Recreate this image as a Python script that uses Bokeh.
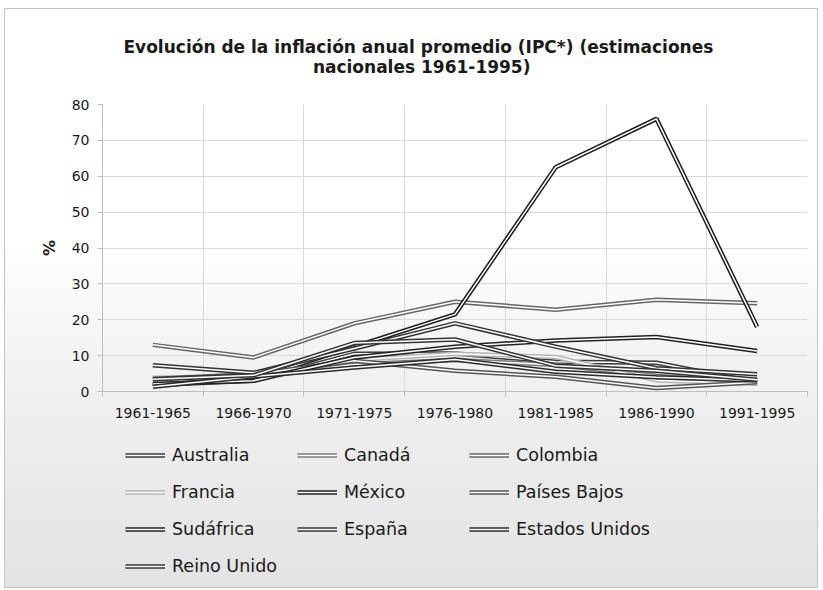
from bokeh.plotting import figure
from bokeh.layouts import column
from bokeh.models import (Range1d, FixedTicker, Legend, LegendItem, Title, InlineStyleSheet)
from bokeh.embed import file_html
from bokeh.resources import INLINE

periods = ["1961-1965", "1966-1970", "1971-1975", "1976-1980",
           "1981-1985", "1986-1990", "1991-1995"]

australia = [1.8, 3.0, 10.5, 10.6, 8.3, 8.0, 2.5]
canada = [1.6, 3.8, 7.5, 8.8, 7.4, 4.4, 2.2]
colombia = [13.0, 9.5, 19.0, 25.0, 22.8, 25.6, 24.6]
francia = [3.8, 4.3, 8.8, 10.5, 9.6, 3.1, 2.2]
mexico = [1.8, 3.5, 12.5, 21.5, 62.5, 76.0, 18.0]
paises_bajos = [3.5, 4.8, 8.6, 5.8, 4.1, 1.0, 2.6]
sudafrica = [2.1, 3.0, 9.5, 12.5, 14.2, 15.2, 11.3]
espana = [7.3, 5.2, 12.0, 19.0, 12.5, 6.5, 4.8]
estados_unidos = [1.3, 4.2, 6.7, 8.9, 5.5, 4.0, 3.1]
reino_unido = [3.4, 4.5, 13.5, 14.5, 7.2, 5.8, 3.3]

series = [
    ("Australia", australia, "#3a3a3a"),
    ("Canadá", canada, "#7a7a7a"),
    ("Colombia", colombia, "#666666"),
    ("Francia", francia, "#b4b4b4"),
    ("México", mexico, "#1e1e1e"),
    ("Países Bajos", paises_bajos, "#555555"),
    ("Sudáfrica", sudafrica, "#222222"),
    ("España", espana, "#333333"),
    ("Estados Unidos", estados_unidos, "#2a2a2a"),
    ("Reino Unido", reino_unido, "#333333"),
]

title_lines = ["Evolución de la inflación anual promedio (IPC*) (estimaciones",
               "nacionales 1961-1995)"]

FONT = "DejaVu Sans"
xs = list(range(len(periods)))
bounds = [i - 0.5 for i in range(len(periods) + 1)]

css = InlineStyleSheet(css=""":host {
  background: linear-gradient(to bottom, #ffffff 0%, #ffffff 40%, #f2f2f2 62%, #e3e3e3 100%) !important;
  border: 1px solid #c4c4c4;
  margin-left: 4px; margin-top: 8px;
}""")

# ---------------- main chart ----------------
p = figure(frame_width=705, frame_height=287,
           x_range=Range1d(-0.5, len(periods) - 0.5),
           y_range=Range1d(0, 80),
           output_backend="svg", toolbar_location=None,
           min_border_left=97, min_border_right=10, min_border_top=95,
           min_border_bottom=40)
p.background_fill_color = None
p.border_fill_color = None
p.outline_line_color = None

title = Title(text=title_lines[0] + "\n" + "\u00a0" * 32 + title_lines[1],
              align="left", offset=21, vertical_align="middle",
              text_font=FONT, text_font_size="17px", text_font_style="bold",
              text_color="#1a1a1a", text_line_height=1.0, standoff=53)
p.add_layout(title, "above")

for name, vals, col in series:
    p.line(xs, vals, line_color=col, line_width=4.5)
    p.line(xs, vals, line_color="white", line_width=1.5)

p.xaxis.ticker = FixedTicker(ticks=xs, minor_ticks=bounds)
p.xaxis.major_label_overrides = {i: lab for i, lab in enumerate(periods)}
p.xaxis.major_tick_out = 0
p.xaxis.major_tick_in = 0
p.xaxis.minor_tick_out = 5
p.xaxis.minor_tick_in = 0
p.xaxis.minor_tick_line_color = "#bfbfbf"
p.xaxis.axis_line_color = "#bfbfbf"
p.xaxis.major_label_text_font = FONT
p.xaxis.major_label_text_font_size = "14px"
p.xaxis.major_label_text_color = "#1a1a1a"
p.xaxis.major_label_standoff = 11

p.yaxis.ticker = FixedTicker(ticks=list(range(0, 81, 10)))
p.yaxis.major_tick_out = 5
p.yaxis.major_tick_in = 0
p.yaxis.minor_tick_line_color = None
p.yaxis.axis_line_color = "#bfbfbf"
p.yaxis.major_tick_line_color = "#bfbfbf"
p.yaxis.major_label_text_font = FONT
p.yaxis.major_label_text_font_size = "14px"
p.yaxis.major_label_text_color = "#1a1a1a"
p.yaxis.major_label_standoff = 8
p.yaxis.axis_label = "%"
p.yaxis.axis_label_text_font = FONT
p.yaxis.axis_label_text_font_size = "16px"
p.yaxis.axis_label_text_font_style = "bold"
p.yaxis.axis_label_text_color = "#1a1a1a"
p.yaxis.axis_label_standoff = 10

p.xgrid.ticker = FixedTicker(ticks=bounds)
p.xgrid.grid_line_color = "#d9d9d9"
p.ygrid.grid_line_color = "#d9d9d9"

# ---------------- legend strip ----------------
lg = figure(width=812, height=156, x_range=Range1d(100, 101), y_range=Range1d(100, 101),
            x_axis_type=None, y_axis_type=None, output_backend="svg",
            toolbar_location=None, min_border=0)
lg.background_fill_color = None
lg.border_fill_color = None
lg.outline_line_color = None
lg.xgrid.visible = False
lg.ygrid.visible = False

items = []
for name, vals, col in series:
    r1 = lg.line(xs, vals, line_color=col, line_width=4.5)
    r2 = lg.line(xs, vals, line_color="white", line_width=1.5)
    items.append(LegendItem(label=name, renderers=[r1, r2]))

legend = Legend(items=items, ncols=3, orientation="horizontal",
                location=(23, 11), label_text_font=FONT,
                label_text_font_size="17.5px", label_text_color="#1a1a1a",
                glyph_width=40, glyph_height=20, label_height=20,
                label_width=108, label_standoff=7, spacing=17,
                background_fill_alpha=0, border_line_color=None,
                padding=0, margin=0)
lg.add_layout(legend, "center")

layout = column(p, lg, spacing=0, stylesheets=[css])

open("out.html", "w").write(file_html(layout, INLINE))
